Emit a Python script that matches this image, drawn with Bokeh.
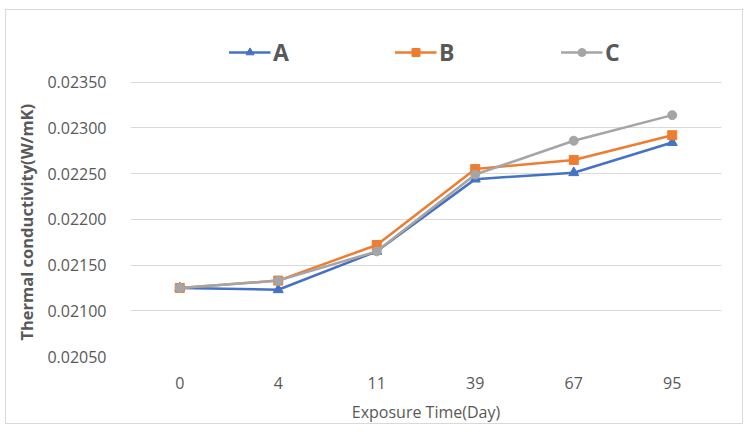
from bokeh.plotting import figure
from bokeh.models import Range1d, FixedTicker, PrintfTickFormatter, Legend, LegendItem, ColumnDataSource
from bokeh.embed import file_html
from bokeh.resources import INLINE

days = ["0", "4", "11", "39", "67", "95"]
series_a = [0.02125, 0.02123, 0.02165, 0.02244, 0.02251, 0.02284]
series_b = [0.02125, 0.02133, 0.02172, 0.02255, 0.02265, 0.02292]
series_c = [0.02125, 0.02133, 0.02165, 0.02249, 0.02286, 0.02314]
y_ticks = [0.0205, 0.0210, 0.0215, 0.0220, 0.0225, 0.0230, 0.0235]

TEXT = "#595959"
FONT = "Open Sans"

# the frame extends above the top gridline to hold the legend
p = figure(x_range=days, y_range=Range1d(0.0205, 0.0240),
           width=738, height=415,
           min_border_left=124, min_border_top=26, min_border_right=23, min_border_bottom=66,
           output_backend="svg", toolbar_location=None, background_fill_color="white",
           border_fill_color="white")
p.styles = {"border": "1px solid #d9d9d9", "margin-left": "5px", "margin-top": "9px"}
p.outline_line_color = None
p.xgrid.grid_line_color = None
p.ygrid.grid_line_color = "#d9d9d9"
p.ygrid.grid_line_width = 1
p.x_range.range_padding = 0

p.yaxis.ticker = FixedTicker(ticks=y_ticks)
p.yaxis.formatter = PrintfTickFormatter(format="%.5f")
for ax in (p.xaxis[0], p.yaxis[0]):
    ax.axis_line_color = None
    ax.major_tick_line_color = None
    ax.minor_tick_line_color = None
    ax.major_label_text_color = TEXT
    ax.major_label_text_font = FONT
    ax.major_label_text_font_size = "16px"
    ax.axis_label_text_color = TEXT
    ax.axis_label_text_font = FONT
p.yaxis.major_label_standoff = 18
p.xaxis.major_label_standoff = 14
p.yaxis.axis_label = "Thermal conductivity(W/mK)" + "\u00a0" * 12
p.yaxis.axis_label_text_font_style = "bold"
p.yaxis.axis_label_text_font_size = "16.5px"
p.yaxis.axis_label_standoff = 6
p.xaxis.axis_label = "Exposure Time(Day)"
p.xaxis.axis_label_text_font_style = "normal"
p.xaxis.axis_label_text_font_size = "16px"
p.xaxis.axis_label_standoff = 9

src = ColumnDataSource(dict(x=days, a=series_a, b=series_b, c=series_c))

la = p.line("x", "a", source=src, line_color="#4472C4", line_width=2.5)
ma = p.scatter("x", "a", source=src, marker="triangle", size=10, color="#4472C4")
lb = p.line("x", "b", source=src, line_color="#ED7D31", line_width=2.5)
mb = p.scatter("x", "b", source=src, marker="square", size=9, color="#ED7D31")
lc = p.line("x", "c", source=src, line_color="#A5A5A5", line_width=2.5)
mc = p.scatter("x", "c", source=src, marker="circle", size=9, color="#A5A5A5")

legend = Legend(items=[LegendItem(label="A", renderers=[la, ma]),
                       LegendItem(label="B", renderers=[lb, mb]),
                       LegendItem(label="C", renderers=[lc, mc])],
                orientation="horizontal", location="top_center",
                glyph_width=42, glyph_height=20, label_standoff=3, label_width=18,
                spacing=103, padding=0, margin=0,
                border_line_color=None, background_fill_alpha=0,
                label_text_font=FONT, label_text_font_style="bold",
                label_text_font_size="23px", label_text_color=TEXT)
p.add_layout(legend)

open("out.html", "w").write(file_html(p, INLINE))
